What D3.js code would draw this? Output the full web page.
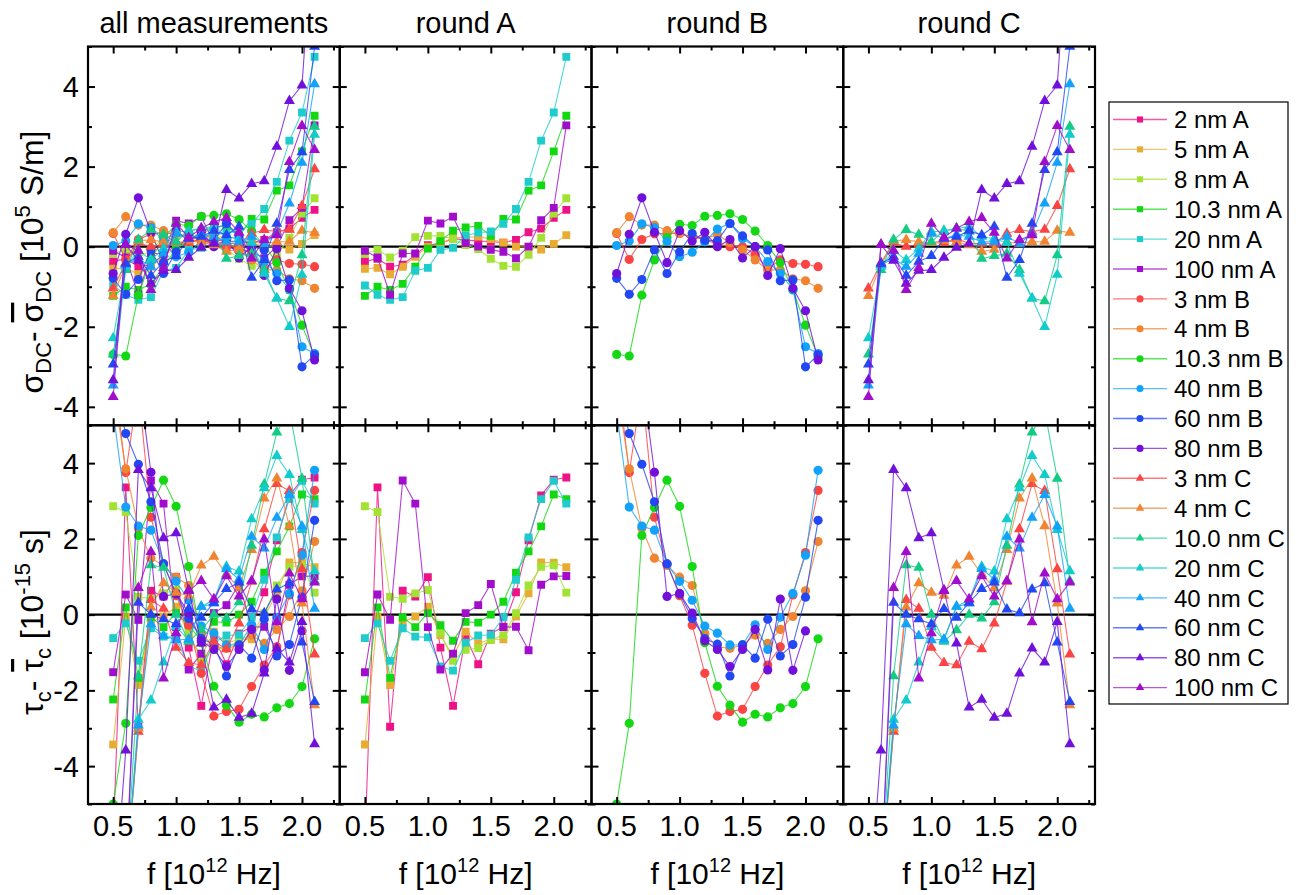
<!DOCTYPE html>
<html>
<head>
<meta charset="utf-8">
<script src="https://cdn.jsdelivr.net/npm/d3@7"></script>
<style>
  body { margin: 0; background: #fff; }
  svg { font-family: Arial, "Liberation Sans", sans-serif; }
</style>
</head>
<body>
<svg width="1302" height="895"></svg>
<script>
// frequencies (10^12 Hz)
const freq = [0.5, 0.6, 0.7, 0.8, 0.9, 1.0, 1.1, 1.2, 1.3, 1.4, 1.5, 1.6, 1.7, 1.8, 1.9, 2.0, 2.1];

const seriesNames = ["2 nm A", "5 nm A", "8 nm A", "10.3 nm A", "20 nm A", "100 nm A",
  "3 nm B", "4 nm B", "10.3 nm B", "40 nm B", "60 nm B", "80 nm B",
  "3 nm C", "4 nm C", "10.0 nm C", "20 nm C", "40 nm C", "60 nm C", "80 nm C", "100 nm C"];

const columnTitles = ["all measurements", "round A", "round B", "round C"];
const columnRounds = [null, "A", "B", "C"];

// sigma_DC - mean sigma_DC [10^5 S/m], same order as seriesNames
const sigmaDev = [
  [-0.37, -0.3, -0.5, -0.45, -0.2, 0.04, 0.08, 0.2, 0.17, 0.14, 0.13, 0.1, 0.17, 0.36, 0.45, 0.72, 0.92],
  [-0.55, -0.53, -0.69, -0.5, -0.25, 0, 0.07, 0.23, 0.23, 0.25, 0.19, 0.1, 0, 0, -0.07, 0.07, 0.29],
  [-0.17, -0.08, -0.27, -0.1, 0.24, 0.27, 0.27, 0.19, 0.04, -0.06, -0.3, -0.48, -0.5, -0.2, 0.22, 0.83, 1.21],
  [-1.23, -1.0, -1.08, -0.93, -0.5, -0.05, 0.14, 0.4, 0.48, 0.52, 0.27, 0.69, 0.68, 1.4, 1.53, 2.38, 3.27],
  [-0.97, -1.2, -1.33, -1.26, -0.6, -0.53, -0.08, -0.03, 0.28, 0.35, 0.38, 0.57, 0.94, 1.62, 2.65, 3.35, 4.74],
  [-0.1, -0.27, -1.2, -0.17, -0.17, 0.65, 0.58, 0.75, 0.09, 0, -0.08, -0.13, -0.29, 0, 0.66, 0.97, 3.03],
  [0.33, -0.32, 0.18, 0.32, 0.33, 0.33, 0.25, 0.17, 0.07, 0, 0, -0.19, -0.55, -0.33, -0.42, -0.44, -0.5],
  [0.35, 0.75, 0.54, 0.54, 0.4, 0.33, 0.25, 0.2, 0.3, 0.1, -0.08, -0.33, -0.58, -0.58, -0.8, -0.85, -1.04],
  [-2.69, -2.73, -1.21, -0.33, 0.23, 0.56, 0.53, 0.76, 0.78, 0.82, 0.68, 0.39, 0.03, -0.4, -1.08, -1.96, -2.75],
  [0.03, 0.14, 0.57, 0.48, 0.13, -0.25, -0.14, 0.12, 0.44, 0.58, 0.2, 0, -0.37, -0.67, -1.07, -2.5, -2.67],
  [-0.79, -1.19, -0.82, -0.08, -0.67, -0.13, 0.33, 0.16, 0.15, 0.58, 0.27, 0, -0.08, -0.85, -0.83, -3.0, -2.7],
  [-0.67, 0.31, 1.22, 0.36, -0.4, 0.4, 0.14, 0.36, 0, 0.18, -0.28, 0, -0.72, -0.05, -1.04, -1.6, -2.83],
  [-1.04, -0.4, 0.1, 0, 0.05, 0.1, 0.1, 0.2, 0.08, 0.08, 0.08, 0.33, 0.42, 0.38, 0.43, 1.02, 1.94],
  [-1.23, -0.45, 0.15, 0.17, 0.12, 0.1, 0.15, 0.12, 0.04, -0.12, -0.07, 0.12, 0.08, 0.12, 0.13, 0.4, 0.35],
  [-2.69, -0.58, 0.18, 0.42, 0.3, 0.12, 0.4, 0.46, 0.38, -0.3, -0.23, -0.17, -0.58, -1.29, -1.36, -0.21, 3.0],
  [-2.28, -0.5, -0.1, -0.33, -0.05, 0.38, 0.38, 0.46, 0.5, 0.25, 0.2, 0.1, -0.67, -1.29, -2.0, -0.7, 2.8],
  [-3.46, -0.45, -0.3, -0.5, -0.17, 0.33, 0.2, 0.3, 0.25, 0.12, 0.12, 0.25, 0.08, 0.33, 1.08, 2.1, 4.06],
  [-2.94, -0.42, -0.25, -0.72, -0.37, -0.23, 0.2, 0.25, 0.4, 0.29, 0.5, -0.77, -0.33, 0.58, 1.92, 2.36, 5.0],
  [-3.33, 0.05, -0.35, -0.92, -0.6, -0.58, -0.27, -0.02, 0.08, 1.42, 1.21, 1.57, 1.64, 2.5, 3.64, 4.03, 8.5],
  [-3.75, 0.05, -0.1, -1.08, -0.53, 0.58, 0.23, 0.46, 0.62, 0.72, 0.35, -0.29, 0.17, 0.29, 2.12, 3.02, 2.42]
];

// tau_c - mean tau_c [10^-15 s], same order as seriesNames
const tauDev = [
  [-6, 3.36, -2.96, 0.63, 0.48, 0.99, -0.87, -2.41, -0.58, -1.31, -0.5, -0.32, 0.59, 1.96, 3.15, 3.56, 3.62],
  [-3.43, -0.05, -1.86, -0.2, -0.05, 0.21, -0.54, -1.1, -0.45, -0.76, -0.65, -0.65, -0.05, 0.56, 1.38, 1.37, 1.25],
  [2.86, 2.71, 0.47, 0.42, 0.56, 0.65, -0.48, -1.22, -0.93, -0.88, -0.67, -0.54, 0.04, 0.77, 1.26, 1.3, 0.58],
  [-2.24, 0.19, -1.67, -0.07, -0.33, 0.04, -0.28, -0.69, -0.19, -0.21, 0, 0.34, 1.11, 1.67, 2.33, 3.17, 3.05],
  [-0.62, -0.23, -1.22, -0.36, -0.58, -0.6, -1.37, -1.48, -0.74, -0.55, -0.53, -0.07, 0.92, 2.04, 3.05, 3.53, 2.93],
  [-1.52, 0.53, -0.14, 3.54, 2.93, -0.33, -1.45, -1.03, 0.04, 0.25, 0.81, -0.33, -0.32, -0.94, 0.79, 1.01, 1.02],
  [6.5, 3.75, 6.0, 2.57, 1.34, 0.5, -0.28, -1.55, -2.68, -2.56, -2.5, -1.9, -1.33, -0.85, 0.52, 1.64, 3.28],
  [6.0, 3.85, 2.28, 1.49, 1.3, 0.99, 0.77, -0.49, -0.85, -0.89, -0.8, -0.54, -0.76, -0.39, -0.05, 0.63, 1.93],
  [-5.0, -2.87, 2.09, 2.83, 3.55, 2.86, 1.27, -0.74, -1.89, -2.39, -2.84, -2.63, -2.7, -2.46, -2.35, -1.9, -0.64],
  [5.35, 2.84, 2.34, 2.23, 1.34, 0.88, 0.38, -0.3, -0.49, -0.8, -0.8, -0.27, -0.92, -0.07, 0.56, 1.57, 3.81],
  [6.2, 4.78, 3.97, 2.98, 1.34, 0.55, -0.1, -0.63, -0.78, -1.62, -0.8, -1.15, -0.12, -1.09, -0.79, 0.46, 2.49],
  [7.0, 6.5, 6.3, 3.76, 0.48, 0.56, 0.04, -0.69, -0.92, -1.37, -0.92, -0.39, -1.46, 0.41, -1.47, -0.43, null],
  [-8, -7, -3.09, 0.39, 0.16, -0.87, -1.27, -1.33, -0.71, -0.91, -0.23, 0.87, 2.26, 3.45, 3.27, 1.2, -1.05],
  [-8, -7, -3.0, 0.19, 0.83, 0.58, 0.5, 1.3, 1.53, 1.07, 0.7, 1.71, 3.07, 3.6, 2.34, 0.3, -2.39],
  [-8, -7, -1.62, 1.31, 1.24, 0, -0.71, -0.41, 0, -0.1, 0.33, 1.82, 3.44, 4.81, 5.4, 3.59, 0.89],
  [-8, -7, -2.77, -2.26, -1.26, -0.32, -0.67, 0.21, 0.39, 1.27, 1.14, 2.52, 3.34, 4.19, 3.69, 2.24, 1.15],
  [-8, -7, -2.92, -0.25, -0.56, -0.67, -0.65, 0.21, 0.3, 1.21, 0.93, 2.06, 1.75, 2.56, 3.16, 2.33, 0.16],
  [-8, -7, 0.32, 0, -0.12, -0.25, 0.15, -0.08, 0.32, 0.68, 0.85, 0.14, 0.04, 0.67, 0.83, -0.73, -2.3],
  [-8, -3.58, 3.82, 3.34, 2.02, 2.15, 0.65, -0.76, -2.45, -2.24, -2.72, -2.61, -1.55, -0.89, -1.26, -0.19, -3.42],
  [-8, -7, 0.71, 1.66, -1.68, -0.49, 0.63, 0.89, 0.41, 1.02, 0.48, 0.89, 1.99, -0.2, 1.09, 0.41, 0.85]
];

const yTicks = [-4, -2, 0, 2, 4];
const xTicks = [0.5, 1.0, 1.5, 2.0];

const colors = ["#ee1287", "#e8ac32", "#a2e232", "#12d812", "#1ecccc", "#a20ccc",
  "#fb4444", "#f08430", "#14d814", "#12a2fa", "#2248f4", "#7010da",
  "#fb4444", "#f08430", "#12cc84", "#12cccc", "#12a2fa", "#2248f4", "#7010da", "#a20ccc"];

const series = seriesNames.map((name, i) => ({
  name,
  round: name.slice(-1),
  color: colors[i],
  sigma: sigmaDev[i],
  tau: tauDev[i]
}));

const shapeOf = {A: d3.symbolSquare, B: d3.symbolCircle, C: d3.symbolTriangle};
const sizeOf = {A: 62, B: 66, C: 52};

const svg = d3.select("svg");
const plotLeft = 88, plotTop = 46.5;
const pw = 251.75, ph = 378.75;

const x = d3.scaleLinear().domain([0.3, 2.3]).range([0, pw]);
const yScales = [
  d3.scaleLinear().domain([-4.46, 5]).range([ph, 0]),
  d3.scaleLinear().domain([-5, 5]).range([ph, 0])
];
const keys = ["sigma", "tau"];

const minorY = [-5, -3, -1, 1, 3, 5];
const minorX = [0.75, 1.25, 1.75, 2.25];

for (let r = 0; r < 2; r++) {
  const y = yScales[r];
  for (let c = 0; c < 4; c++) {
    const g = svg.append("g")
      .attr("transform", `translate(${plotLeft + c * pw},${plotTop + r * ph})`);
    const clipId = `clip-${r}-${c}`;
    g.append("clipPath").attr("id", clipId)
      .append("rect").attr("width", pw).attr("height", ph);

    const plot = g.append("g").attr("clip-path", `url(#${clipId})`);
    plot.append("line")
      .attr("x1", 0).attr("x2", pw)
      .attr("y1", y(0)).attr("y2", y(0))
      .attr("stroke", "#000").attr("stroke-width", 2.2);

    const shown = series.filter(s => columnRounds[c] === null || s.round === columnRounds[c]);
    const line = d3.line()
      .defined(d => d[1] !== null)
      .x(d => x(d[0]))
      .y(d => y(d[1]));

    shown.forEach(s => {
      const pts = freq.map((f, i) => [f, s[keys[r]][i]]);
      plot.append("path")
        .attr("d", line(pts))
        .attr("fill", "none")
        .attr("stroke", s.color)
        .attr("stroke-opacity", 0.8)
        .attr("stroke-width", 1.1);
      plot.selectAll(null)
        .data(pts.filter(d => d[1] !== null))
        .join("path")
        .attr("transform", d => `translate(${x(d[0])},${y(d[1])})`)
        .attr("d", d3.symbol(shapeOf[s.round], sizeOf[s.round]))
        .attr("fill", s.color);
    });

    // inward ticks on all four sides
    const yMinor = minorY.filter(v => v >= y.domain()[0]);
    const axes = [
      [d3.axisBottom(x).tickValues(xTicks), `translate(0,${ph})`, -7],
      [d3.axisBottom(x).tickValues(minorX), `translate(0,${ph})`, -4],
      [d3.axisTop(x).tickValues(xTicks), null, -7],
      [d3.axisTop(x).tickValues(minorX), null, -4],
      [d3.axisLeft(y).tickValues(yTicks), null, -7],
      [d3.axisLeft(y).tickValues(yMinor), null, -4],
      [d3.axisRight(y).tickValues(yTicks), `translate(${pw},0)`, -7],
      [d3.axisRight(y).tickValues(yMinor), `translate(${pw},0)`, -4]
    ];
    axes.forEach(([ax, tr, size]) => {
      const a = g.append("g").call(ax.tickSize(size).tickFormat(""));
      if (tr) a.attr("transform", tr);
      a.select(".domain").remove();
      a.selectAll("line").attr("stroke", "#000").attr("stroke-width", 2);
    });

    g.append("rect")
      .attr("width", pw).attr("height", ph)
      .attr("fill", "none").attr("stroke", "#000").attr("stroke-width", 2.2);

    // tick labels
    if (c === 0) {
      g.selectAll(".ylab").data(yTicks).join("text")
        .attr("x", -9).attr("y", d => y(d))
        .attr("dy", "0.36em")
        .attr("text-anchor", "end")
        .attr("font-size", 29)
        .text(d => d);
    }
    if (r === 1) {
      g.selectAll(".xlab").data(xTicks).join("text")
        .attr("x", d => x(d)).attr("y", ph + 32)
        .attr("text-anchor", "middle")
        .attr("font-size", 29)
        .text(d => d3.format(".1f")(d));
      const t = g.append("text")
        .attr("x", pw / 2).attr("y", ph + 80)
        .attr("text-anchor", "middle")
        .attr("font-size", 30);
      t.append("tspan").text("f [10");
      t.append("tspan").attr("font-size", 20).attr("dy", -12).text("12");
      t.append("tspan").attr("dy", 12).text(" Hz]");
    }
    if (r === 0) {
      svg.append("text")
        .attr("x", plotLeft + c * pw + pw / 2).attr("y", 33)
        .attr("text-anchor", "middle")
        .attr("font-size", 29)
        .text(columnTitles[c]);
    }
  }
}

// y axis titles
function yTitle(cy, sym, sub, sup, unit) {
  const t = svg.append("text")
    .attr("transform", `translate(43,${cy}) rotate(-90)`)
    .attr("text-anchor", "middle")
    .attr("font-size", 32);
  t.append("tspan").text(sym);
  t.append("tspan").attr("font-size", 22).attr("dy", 8).text(sub);
  t.append("tspan").attr("dy", -8).text("- ");
  t.append("tspan").style("text-decoration", "overline").text(sym);
  t.append("tspan").attr("font-size", 22).attr("dy", 8).text(sub);
  t.append("tspan").attr("dy", -8).text(" [10");
  t.append("tspan").attr("font-size", 22).attr("dy", -13).text(sup);
  t.append("tspan").attr("dy", 13).text(unit);
}
yTitle(262, "σ", "DC", "5", " S/m]");
yTitle(622, "τ", "c", "-15", " s]");

// legend
const lg = svg.append("g").attr("transform", "translate(1109,102)");
lg.append("rect").attr("width", 179).attr("height", 602)
  .attr("fill", "#fff").attr("stroke", "#000").attr("stroke-width", 1.2);
const rows = lg.selectAll(".row").data(series).join("g")
  .attr("transform", (d, i) => `translate(0,${17.5 + i * 29.9})`);
rows.append("line")
  .attr("x1", 4).attr("x2", 58)
  .attr("stroke", d => d.color).attr("stroke-opacity", 0.7).attr("stroke-width", 1.4);
rows.append("path")
  .attr("transform", "translate(31,0)")
  .attr("d", d => d3.symbol(shapeOf[d.round], sizeOf[d.round] * 0.6)())
  .attr("fill", d => d.color);
rows.append("text")
  .attr("x", 65).attr("dy", "0.36em")
  .attr("font-size", 24)
  .text(d => d.name);
</script>
</body>
</html>
